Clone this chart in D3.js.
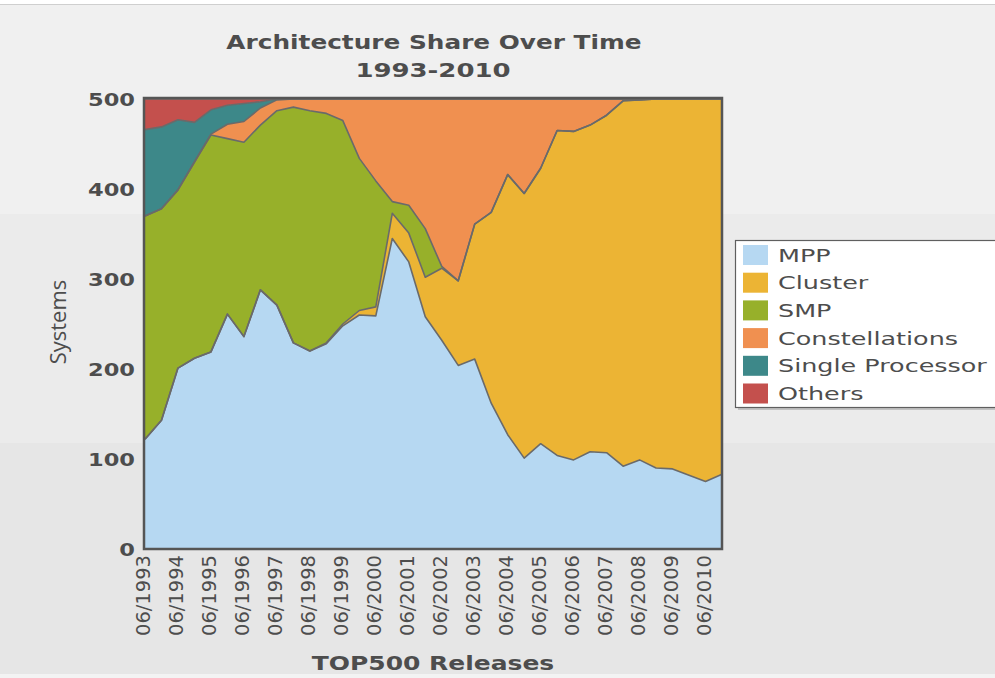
<!DOCTYPE html>
<html>
<head>
<meta charset="utf-8">
<title>Architecture Share Over Time</title>
<script src="https://cdn.jsdelivr.net/npm/d3@7/dist/d3.min.js"></script>
<style>
  body { margin: 0; background: #fff; }
  svg { display: block; }
  text { fill: #4d4d4d; }
</style>
</head>
<body>
<svg id="chart" width="995" height="678"></svg>
<script>
// TOP500 releases, two per year
var releases = ["06/1993","11/1993","06/1994","11/1994","06/1995","11/1995","06/1996","11/1996",
  "06/1997","11/1997","06/1998","11/1998","06/1999","11/1999","06/2000","11/2000",
  "06/2001","11/2001","06/2002","11/2002","06/2003","11/2003","06/2004","11/2004",
  "06/2005","11/2005","06/2006","11/2006","06/2007","11/2007","06/2008","11/2008",
  "06/2009","11/2009","06/2010","11/2010"];

// only the june releases get a label
var tickLabels = releases.filter(function(r) { return r.slice(0, 2) === "06"; });

var mpp = [122,143,201,212,219,261,236,288,271,229,220,228,248,260,259,345,319,258,232,204,
  211,162,127,101,117,104,99,108,107,92,99,90,89,82,75,83];
var cluster = [0,0,0,0,0,0,0,0,0,0,0,1,2,5,10,28,32,44,80,94,
  150,212,289,294,306,361,365,363,375,406,400,410,411,418,425,417];
var smp = [248,235,198,218,241,195,216,183,216,262,267,255,226,169,140,13,31,54,2,0,
  0,0,0,0,0,0,0,0,0,0,0,0,0,0,0,0];
var constellations = [0,0,0,0,1,16,23,19,12,9,13,16,24,66,91,114,118,144,186,202,
  139,126,84,105,77,35,36,29,18,2,1,0,0,0,0,0];
var singleProc = [96,91,78,44,27,21,20,7,1,0,0,0,0,0,0,0,0,0,0,0,
  0,0,0,0,0,0,0,0,0,0,0,0,0,0,0,0];
var others = [34,31,23,26,12,7,5,3,0,0,0,0,0,0,0,0,0,0,0,0,
  0,0,0,0,0,0,0,0,0,0,0,0,0,0,0,0];

var seriesNames = ["MPP", "Cluster", "SMP", "Constellations", "Single Processor", "Others"];
var seriesValues = [mpp, cluster, smp, constellations, singleProc, others];
var colors = ["#b6d8f2", "#ecb434", "#97b02a", "#f09050", "#3d8889", "#c4504d"];
var yTicks = [0, 100, 200, 300, 400, 500];

// rows for d3.stack
var rows = releases.map(function(r, i) {
  var row = {release: r};
  seriesNames.forEach(function(s, k) { row[s] = seriesValues[k][i]; });
  return row;
});

var svg = d3.select("#chart");
var W = 995, H = 678;
var plot = {left: 145, right: 722, top: 99, bottom: 549};

// background bands
var bands = [[0, 4, "#ffffff"], [4, 214, "#f0f0f0"], [214, 443, "#ebebeb"], [443, 674, "#e6e6e6"], [674, 678, "#f3f3f3"]];
svg.selectAll("rect.band").data(bands).enter().append("rect")
  .attr("class", "band")
  .attr("x", 0).attr("width", W)
  .attr("y", function(d) { return d[0]; })
  .attr("height", function(d) { return d[1] - d[0]; })
  .attr("fill", function(d) { return d[2]; });
svg.append("line").attr("x1", 0).attr("x2", W).attr("y1", 4.5).attr("y2", 4.5)
  .attr("stroke", "#cfcfcf").attr("stroke-width", 1);

var x = d3.scalePoint().domain(releases).range([plot.left, plot.right]);
var y = d3.scaleLinear().domain([0, 500]).range([plot.bottom, plot.top]);

var stack = d3.stack().keys(seriesNames);
var layers = stack(rows);

var area = d3.area()
  .x(function(d) { return x(d.data.release); })
  .y0(function(d) { return y(d[0]); })
  .y1(function(d) { return y(d[1]); });

var topLine = d3.line()
  .x(function(d) { return x(d.data.release); })
  .y(function(d) { return y(d[1]); });

svg.append("g").selectAll("path").data(layers).enter().append("path")
  .attr("d", area)
  .attr("fill", function(d, i) { return colors[i]; });

svg.append("g").selectAll("path").data(layers).enter().append("path")
  .attr("d", topLine)
  .attr("fill", "none")
  .attr("stroke", "#6a6a6a")
  .attr("stroke-width", 1.6)
  .attr("stroke-linejoin", "round");

// frame
svg.append("rect")
  .attr("x", plot.left - 1).attr("y", plot.top - 1)
  .attr("width", plot.right - plot.left + 1).attr("height", plot.bottom - plot.top + 1)
  .attr("fill", "none").attr("stroke", "#555").attr("stroke-width", 2.5);

// stretch text horizontally so it matches the wide type of the original
function stretch(sel, k) {
  sel.each(function() {
    var len = this.getComputedTextLength();
    d3.select(this).attr("textLength", len * k).attr("lengthAdjust", "spacingAndGlyphs");
  });
}

// titles
var title1 = svg.append("text").attr("x", 434).attr("y", 49)
  .attr("text-anchor", "middle")
  .style("font", "bold 19.5px 'DejaVu Sans'")
  .text("Architecture Share Over Time");
var title2 = svg.append("text").attr("x", 433).attr("y", 77)
  .attr("text-anchor", "middle")
  .style("font", "bold 19.5px 'DejaVu Sans'")
  .text("1993-2010");
stretch(title1, 1.27);
stretch(title2, 1.33);

// y tick labels
var yl = svg.append("g").selectAll("text").data(yTicks).enter().append("text")
  .attr("x", 135)
  .attr("y", function(d) { return y(d) + 7; })
  .attr("text-anchor", "end")
  .style("font", "bold 18px 'DejaVu Sans'")
  .text(function(d) { return d; });
stretch(yl, 1.25);

svg.append("text")
  .attr("transform", "translate(66,322) rotate(-90)")
  .attr("text-anchor", "middle")
  .style("font", "22px 'Open Sans'")
  .text("Systems");

// x tick labels
svg.append("g").selectAll("text").data(tickLabels).enter().append("text")
  .attr("transform", function(d) { return "translate(" + (x(d) + 5) + ",555) rotate(-90)"; })
  .attr("text-anchor", "end")
  .style("font", "19.5px 'DejaVu Sans'")
  .text(function(d) { return d; });

var xt = svg.append("text").attr("x", 433).attr("y", 670)
  .attr("text-anchor", "middle")
  .style("font", "bold 19.5px 'DejaVu Sans'")
  .text("TOP500 Releases");
stretch(xt, 1.28);

// legend
var lg = svg.append("g");
lg.append("rect").attr("x", 738).attr("y", 243).attr("width", 270).attr("height", 167)
  .attr("fill", "#999").attr("opacity", 0.5);
lg.append("rect").attr("x", 735.5).attr("y", 240.5).attr("width", 270).attr("height", 167)
  .attr("fill", "#fff").attr("stroke", "#5f5f5f").attr("stroke-width", 1.2);
var items = lg.selectAll("g.item").data(seriesNames).enter().append("g")
  .attr("class", "item")
  .attr("transform", function(d, i) { return "translate(0," + (255 + i * 27.7) + ")"; });
items.append("rect").attr("x", 743).attr("y", -10).attr("width", 25).attr("height", 20)
  .attr("fill", function(d, i) { return colors[i]; });
var lt = items.append("text").attr("x", 778).attr("y", 6.5)
  .style("font", "18.5px 'DejaVu Sans'")
  .text(function(d) { return d; });
stretch(lt, 1.375);
</script>
</body>
</html>
